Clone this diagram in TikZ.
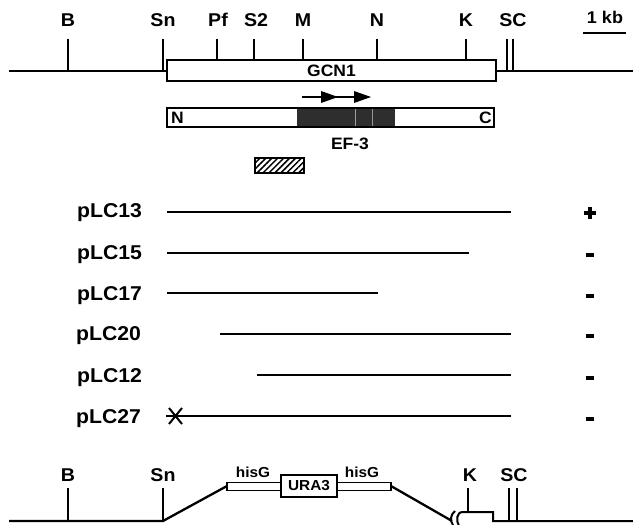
\documentclass[tikz,border=0pt]{standalone}
\usepackage{fontspec}
\newfontfamily\hb[FakeStretch=1.06]{Liberation Sans}
\usetikzlibrary{patterns.meta}
\begin{document}
\begin{tikzpicture}[x=1pt,y=-1pt,
  lbl/.style={font=\hb\bfseries\fontsize{18.5}{18}\selectfont, inner sep=0pt},
  plbl/.style={font=\hb\bfseries\fontsize{20}{20}\selectfont, inner sep=0pt, anchor=west},
  small/.style={font=\hb\bfseries\fontsize{16.5}{16}\selectfont, inner sep=0pt},
  tiny/.style={font=\hb\bfseries\fontsize{14.5}{14}\selectfont, inner sep=0pt},
  dna/.style={line width=2.3pt},
  tick/.style={line width=2pt},
  gene/.style={draw, line width=2pt, fill=white},
  frag/.style={line width=2.2pt}]
\useasboundingbox (0,0) rectangle (633,525);

% ---------------- top map ----------------
\draw[dna] (9,71) -- (633,71);
\foreach \x/\t/\n in {68/B/tb, 163/Sn/tsn, 218/Pf/tpf, 256/S2/ts2, 303/M/tm, 377/N/tn, 466/K/tk}{
  \node[lbl] (\n) at (\x,20) {\t};
}
\node[lbl] (tsc) at (513,20) {SC};
\draw[tick] (68,39) -- (68,71);
\draw[tick] (163,39) -- (163,71);
\draw[tick] (217,39) -- (217,60);
\draw[tick] (254,39) -- (254,60);
\draw[tick] (303,39) -- (303,60);
\draw[tick] (377,39) -- (377,60);
\draw[tick] (466,39) -- (466,60);
\draw[tick] (507,39) -- (507,71);
\draw[tick] (513,39) -- (513,71);
\node[gene, minimum width=329pt, minimum height=21pt, inner sep=0pt] (gcn) at (331.5,70.5) {};
\node[small] at (gcn.center) {GCN1};
\node[lbl, font=\hb\bfseries\fontsize{17}{17}\selectfont] (kb) at (605,17) {1 kb};
\draw[line width=2.2pt] (583,33) -- (626,33);

% arrows
\coordinate (a1) at (302,97);
\coordinate (a3) at (369,97);
\draw[line width=2pt] (a1) -- (a3);
\fill (321,91) -- (338,97) -- (321,103) -- cycle;
\fill (354,91) -- (371,97) -- (354,103) -- cycle;

% EF-3 box
\fill[black!82] (297,108) rectangle (395,127);
\draw[white!62!black, line width=0.7pt] (355,109) -- (355,126);
\draw[white!58!black, line width=0.6pt] (372,109) -- (372,126);
\node[draw, line width=2pt, minimum width=327pt, minimum height=19pt, inner sep=0pt] (ef) at (330.5,117.5) {};
\node[small, anchor=west] (nlab) at (171,118) {N};
\node[small, anchor=east] (clab) at (492,118) {C};
\node[small] (eflab) at (350,144) {EF-3};

% hatched box
\node[draw, line width=1.8pt, minimum width=49pt, minimum height=15pt, inner sep=0pt,
  pattern={Lines[angle=45, distance=4.2pt, line width=1.5pt]}] (hatch) at (279.5,165.5) {};

% ---------------- constructs ----------------
\node[plbl] (p13) at (77,213) {pLC13};
\node[plbl] (p15) at (77,255) {pLC15};
\node[plbl] (p17) at (77,296) {pLC17};
\node[plbl] (p20) at (76,336) {pLC20};
\node[plbl] (p12) at (77,378) {pLC12};
\node[plbl] (p27) at (76,419) {pLC27};
\draw[frag] (167,212) -- (511,212);
\draw[frag] (167,253) -- (469,253);
\draw[frag] (167,293) -- (378,293);
\draw[frag] (220,334) -- (511,334);
\draw[frag] (257,375) -- (511,375);
\draw[frag] (166,416) -- (511,416);
\draw[line width=2pt] (169,408) -- (182,424) (182,408) -- (169,424);
\draw[line width=3.2pt] (584,213) -- (596,213) (590,207) -- (590,219);
\foreach \y/\n in {255/r15, 296/r17, 336/r20, 378/r12, 419/r27}{
  \fill (586,\y-2.5) rectangle (594,\y+2);
}

% ---------------- bottom map ----------------
\node[lbl] (bb) at (68,475) {B};
\node[lbl] (bsn) at (163,475) {Sn};
\node[lbl] (bk) at (470,475) {K};
\node[lbl] (bsc) at (514,475) {SC};
\draw[dna] (9,521) -- (163,521) -- (227,486);
\node[draw, line width=1.8pt, minimum width=54pt, minimum height=8pt, inner sep=0pt] (h1) at (254,486.5) {};
\node[draw, line width=2pt, minimum width=56pt, minimum height=22pt, inner sep=0pt, fill=white] (ura) at (309,485.5) {};
\node[tiny] at (ura.center) {URA3};
\node[draw, line width=1.8pt, minimum width=54pt, minimum height=8pt, inner sep=0pt] (h2) at (364,486.5) {};
\node[tiny] (hl1) at (253,472) {hisG};
\node[tiny] (hl2) at (362,472) {hisG};
\draw[dna] (391,486) -- (452,521);
\draw[line width=2pt] (455,511) .. controls (450,515) and (450,521) .. (453,525);
\draw[line width=2pt] (459,526) .. controls (456,521) and (456,512) .. (463,512) -- (493,512) -- (493,521) -- (633,521);
\draw[tick] (68,488) -- (68,521);
\draw[tick] (163,488) -- (163,521);
\draw[tick] (468,488) -- (468,512);
\draw[tick] (509,488) -- (509,521);
\draw[tick] (517,488) -- (517,521);
\end{tikzpicture}
\end{document}
